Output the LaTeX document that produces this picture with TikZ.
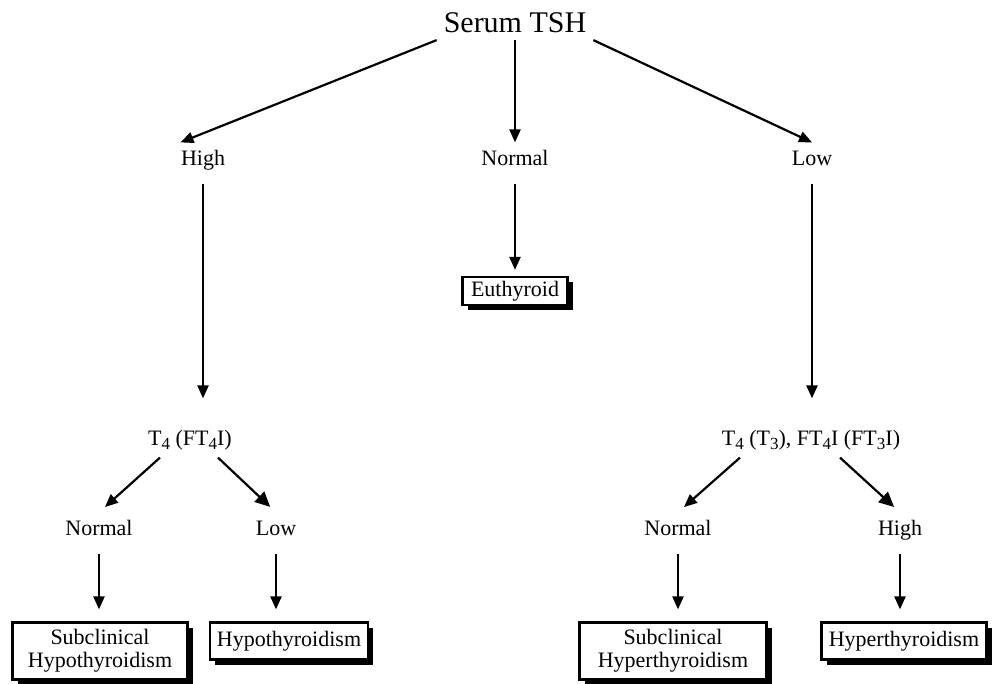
\documentclass[tikz,border=0pt]{standalone}
\usepackage{fontspec}
\setmainfont{Liberation Serif}
\usetikzlibrary{arrows.meta,shadows,calc}

\newcommand{\lowsub}[1]{\raisebox{-0.4ex}{\fontsize{8.5}{8.5}\selectfont #1}}

\begin{document}
\begin{tikzpicture}[x=0.5pt, y=-0.5pt, line width=1.1pt,
        lbl/.style = {font=\fontsize{11}{13}\selectfont, inner sep=3pt, text height=8pt, text depth=2.5pt},
        res/.style = {draw, fill=white, align=center, inner xsep=3pt, inner ysep=2pt,
            font=\fontsize{11}{11.5}\selectfont,
            drop shadow={shadow xshift=2.5pt, shadow yshift=-2.5pt, opacity=1, fill=black}},
        arr/.style = {-{Triangle[length=6.5pt,width=5.5pt]}},
        bigarr/.style = {-{Triangle[length=7.5pt,width=7pt]}}]
        \useasboundingbox (0,0) rectangle (992,684);

        \node[lbl, font=\fontsize{15}{17}\selectfont, text height=11pt, text depth=0pt] (tsh) at (515,22) {Serum TSH};
        \node[lbl] (high) at (203,160) {High};
        \node[lbl] (normal) at (515,160) {Normal};
        \node[lbl] (low) at (812,160) {Low};
        \node[res, minimum width=52.5pt, minimum height=12pt] (euth) at (515,291) {Euthyroid};

        \node[lbl] (t4l) at (190,440) {T\lowsub{4} (FT\lowsub{4}I)};
        \node[lbl] (t4r) at (811,440) {T\lowsub{4} (T\lowsub{3}), FT\lowsub{4}I (FT\lowsub{3}I)};

        \node[lbl] (nl) at (99,530) {Normal};
        \node[lbl] (ll) at (276,530) {Low};
        \node[lbl] (nr) at (678,530) {Normal};
        \node[lbl] (hr) at (900,530) {High};

        \node[res, minimum width=87.5pt, minimum height=28.5pt] (shb) at (100,651) {Subclinical\\Hypothyroidism};
        \node[res, minimum width=79pt, minimum height=18.5pt] (hyb) at (289,641) {Hypothyroidism};
        \node[res, minimum width=93.5pt, minimum height=28.5pt] (shr) at (673,651) {Subclinical\\Hyperthyroidism};
        \node[res, minimum width=82.5pt, minimum height=18.5pt] (hrb) at (904,641) {Hyperthyroidism};

        % first level
        \path[arr] (tsh.south west) edge (high.142);
        \path[arr] (tsh.south) edge (normal.north);
        \path[arr] (tsh.south east) edge (low.north);

        \path[arr, shorten <=3pt, shorten >=3pt] (normal.south) edge (euth.north);
        \path[arr, shorten <=3pt, shorten >=12pt] (high.south) edge (high.south |- t4l.north);
        \path[arr, shorten <=3pt, shorten >=12pt] (low.south) edge (low.south |- t4r.north);

        % second level
        \path[arr, shorten >=4pt] ($(t4l.south)+(-30,0)$) edge (nl.north);
        \path[bigarr, shorten >=4pt] ($(t4l.south)+(28,0)$) edge (ll.north);
        \path[arr, shorten >=4pt] ($(t4r.south)+(-71,0)$) edge (nr.north);
        \path[bigarr, shorten >=4pt] ($(t4r.south)+(29,0)$) edge (hr.north);

        \path[arr, shorten <=3pt, shorten >=6pt] (nl.south) edge (nl.south |- shb.north);
        \path[arr, shorten <=3pt, shorten >=6pt] (ll.south) edge (ll.south |- hyb.north);
        \path[arr, shorten <=3pt, shorten >=6pt] (nr.south) edge (nr.south |- shr.north);
        \path[arr, shorten <=3pt, shorten >=6pt] (hr.south) edge (hr.south |- hrb.north);
    \end{tikzpicture}
\end{document}
